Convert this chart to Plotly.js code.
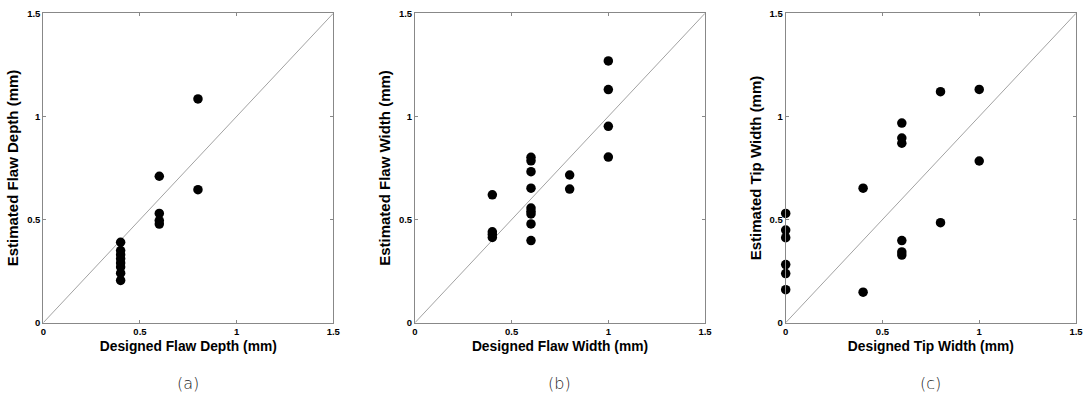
<!DOCTYPE html>
<html>
<head>
<meta charset="utf-8">
<script src="https://cdn.plot.ly/plotly-3.0.1.min.js"></script>
<style>html,body{margin:0;padding:0;background:#fff;}#chart{width:1089px;height:396px;}</style>
</head>
<body>
<div id="chart"></div>
<script>
// Panel (a): flaw depth
const depthDesigned = [0.4,0.4,0.4,0.4,0.4,0.4,0.4,0.4, 0.6,0.6,0.6,0.6, 0.8,0.8];
const depthEstimated = [0.39,0.35,0.33,0.31,0.29,0.27,0.24,0.205, 0.71,0.53,0.495,0.478, 1.085,0.645];
// Panel (b): flaw width
const widthDesigned = [0.4,0.4,0.4,0.4, 0.6,0.6,0.6,0.6,0.6,0.6,0.6,0.6,0.6, 0.8,0.8, 1.0,1.0,1.0,1.0];
const widthEstimated = [0.62,0.441,0.428,0.413, 0.802,0.785,0.732,0.652,0.556,0.54,0.527,0.479,0.398, 0.716,0.648, 1.269,1.13,0.952,0.803];
// Panel (c): tip width
const tipDesigned = [0,0,0,0,0,0, 0.4,0.4, 0.6,0.6,0.6,0.6,0.6,0.6, 0.8,0.8, 1.0,1.0];
const tipEstimated = [0.53,0.449,0.412,0.282,0.238,0.16, 0.652,0.148, 0.968,0.895,0.87,0.398,0.343,0.328, 1.12,0.485, 1.131,0.784];
// Reference diagonal and ticks
const diag = [0, 1.5];
const tickVals = [0, 0.5, 1, 1.5];
const tickText = ['0', '0.5', '1', '1.5'];
const xTitles = ['Designed Flaw Depth (mm)', 'Designed Flaw Width (mm)', 'Designed Tip Width (mm)'];
const yTitles = ['Estimated Flaw Depth (mm)', 'Estimated Flaw Width (mm)', 'Estimated Tip Width (mm)'];
const captions = ['(a)', '(b)', '(c)'];

const W = 1089, H = 396;
const xDom = [[43.3/W, 333.3/W], [415/W, 705/W], [785.7/W, 1076/W]];
const yDom = [1 - 322.7/H, 1 - 13.3/H];

const dataSets = [[depthDesigned, depthEstimated], [widthDesigned, widthEstimated], [tipDesigned, tipEstimated]];
const traces = [];
const FONT = 'Liberation Sans, Arial, sans-serif';
const layout = {
  width: W, height: H,
  margin: {l: 0, r: 0, t: 0, b: 0},
  paper_bgcolor: '#fff', plot_bgcolor: '#fff',
  showlegend: false,
  font: {family: FONT, color: '#000'},
  annotations: []
};
dataSets.forEach((d, i) => {
  const xa = i === 0 ? 'x' : 'x' + (i + 1);
  const ya = i === 0 ? 'y' : 'y' + (i + 1);
  traces.push({x: diag, y: diag, xaxis: xa, yaxis: ya, mode: 'lines',
    line: {color: '#8a8a8a', width: 0.8}, hoverinfo: 'skip'});
  traces.push({x: d[0], y: d[1], xaxis: xa, yaxis: ya, mode: 'markers', cliponaxis: false,
    marker: {color: '#000', size: 9.5, line: {width: 0}}});
  const axCommon = {
    range: [0, 1.5], tickvals: tickVals, ticktext: tickText,
    ticks: 'inside', ticklen: 3, tickcolor: '#888', tickwidth: 1,
    showline: true, linecolor: '#888', linewidth: 1, mirror: 'ticks',
    showgrid: false, zeroline: false, fixedrange: true,
    tickfont: {size: 9.5, family: FONT, color: '#000', weight: 'bold'}
  };
  layout['xaxis' + (i === 0 ? '' : i + 1)] = Object.assign({}, axCommon, {
    domain: xDom[i], anchor: ya,
    title: {text: xTitles[i], font: {size: 13.8, weight: 'bold', family: FONT}, standoff: 5}
  });
  layout['yaxis' + (i === 0 ? '' : i + 1)] = Object.assign({}, axCommon, {
    domain: yDom, anchor: xa,
    title: {text: yTitles[i], font: {size: 15, weight: 'bold', family: FONT}, standoff: 4}
  });
  layout.annotations.push({
    text: captions[i], xref: 'paper', yref: 'paper',
    x: (xDom[i][0] + xDom[i][1]) / 2, y: 1 - 383/H,
    xanchor: 'center', yanchor: 'middle', showarrow: false,
    font: {size: 16, color: '#222', family: 'DejaVu Sans, sans-serif', weight: 300}
  });
});
Plotly.newPlot('chart', traces, layout, {displayModeBar: false, staticPlot: true});
</script>
</body>
</html>
